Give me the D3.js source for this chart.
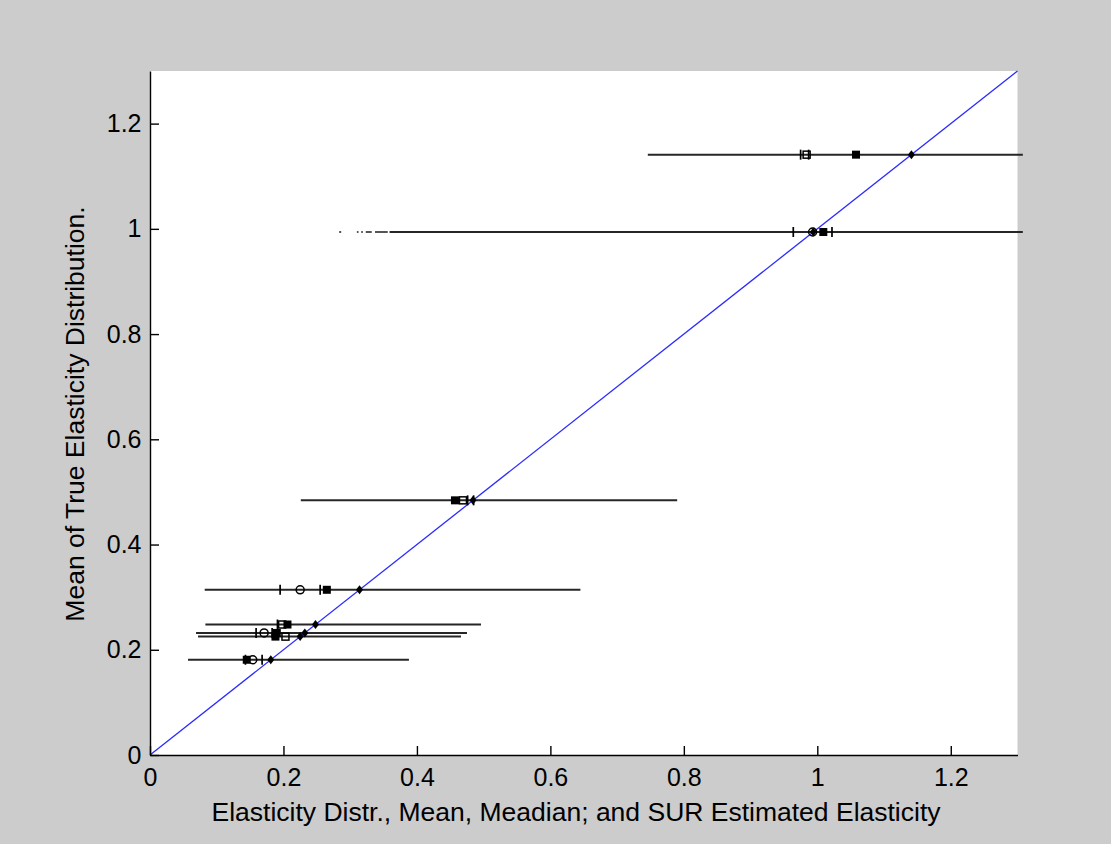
<!DOCTYPE html>
<html>
<head>
<meta charset="utf-8">
<script src="https://cdn.jsdelivr.net/npm/d3@7"></script>
<style>
  html, body { margin: 0; padding: 0; background: #cccccc; }
  svg { display: block; }
  text { font-family: "Liberation Sans", Arial, sans-serif; fill: #000; }
</style>
</head>
<body>
<svg id="chart" width="1111" height="844"></svg>
<script>
// ---- data ----
const trueMean   = [1.141, 0.994, 0.484, 0.314, 0.248, 0.232, 0.225, 0.181];
const rangeLo    = [0.746, 0.359, 0.226, 0.082, 0.083, 0.069, 0.072, 0.057];
const rangeHi    = [1.308, 1.308, 0.790, 0.645, 0.496, 0.475, 0.466, 0.388];
const ciLo       = [0.975, 0.964, 0.476, 0.195, 0.191, 0.159, null,  0.143];
const ciHi       = [0.987, 1.022, 0.485, 0.255, null,  0.183, null,  0.168];
const medianEst  = [null,  0.993, null,  0.225, null,  0.171, null,  0.154];
const meanEst    = [0.984, null,  0.469, null,  0.198, null,  0.203, null ];
const surEst     = [1.058, 1.009, 0.457, 0.265, 0.206, 0.190, 0.188, 0.145];
// faint broken fragments at the left end of the y≈1 row
const fragRow    = 1;
const fragments  = [[0.2835, 0.2865], [0.310, 0.3125], [0.3165, 0.319], [0.3233, 0.3323], [0.3372, 0.3563]];
const xTicks = [0, 0.2, 0.4, 0.6, 0.8, 1, 1.2];
const yTicks = [0, 0.2, 0.4, 0.6, 0.8, 1, 1.2];
const xLabel = "Elasticity Distr., Mean, Meadian; and SUR Estimated Elasticity";
const yLabel = "Mean of True Elasticity Distribution.";

// ---- layout ----
const L = 150, R = 1017.5, T = 71, B = 755;
const svg = d3.select("#chart");
const x = d3.scaleLinear().domain([0, 1.3]).range([L, R]);
const y = d3.scaleLinear().domain([0, 1.3]).range([B, T]);

svg.append("rect").attr("x", 0).attr("y", 0).attr("width", 1111).attr("height", 844).attr("fill", "#cccccc");
svg.append("rect").attr("x", L).attr("y", T).attr("width", R - L).attr("height", B - T).attr("fill", "#ffffff");

const rows = trueMean.map((t, i) => ({
  t, lo: rangeLo[i], hi: rangeHi[i], ciLo: ciLo[i], ciHi: ciHi[i],
  med: medianEst[i], mean: meanEst[i], sur: surEst[i]
}));

// range lines
svg.append("g").selectAll("line").data(rows).join("line")
  .attr("x1", d => x(d.lo)).attr("x2", d => x(d.hi))
  .attr("y1", d => y(d.t)).attr("y2", d => y(d.t))
  .attr("stroke", "#262626").attr("stroke-width", 2);

svg.append("g").selectAll("line").data(fragments).join("line")
  .attr("x1", d => x(d[0])).attr("x2", d => x(d[1]))
  .attr("y1", y(trueMean[fragRow])).attr("y2", y(trueMean[fragRow]))
  .attr("stroke", "#555").attr("stroke-width", 2);

// 45-degree line
svg.append("line")
  .attr("x1", x(0)).attr("y1", y(0)).attr("x2", x(1.3)).attr("y2", y(1.3))
  .attr("stroke", "#2a2aff").attr("stroke-width", 1.3);

const mk = svg.append("g");
// ticks (CI bounds)
const tickPts = [];
rows.forEach(d => { if (d.ciLo != null) tickPts.push({v: d.ciLo, t: d.t}); if (d.ciHi != null) tickPts.push({v: d.ciHi, t: d.t}); });
mk.selectAll("line.ci").data(tickPts).join("line").attr("class", "ci")
  .attr("x1", d => x(d.v)).attr("x2", d => x(d.v))
  .attr("y1", d => y(d.t) - 5).attr("y2", d => y(d.t) + 5)
  .attr("stroke", "#000").attr("stroke-width", 1.7);

// open squares
mk.selectAll("rect.os").data(rows.filter(d => d.mean != null)).join("rect").attr("class", "os")
  .attr("x", d => x(d.mean) - 3.5).attr("y", d => y(d.t) - 3.5)
  .attr("width", 7).attr("height", 7)
  .attr("fill", "none").attr("stroke", "#000").attr("stroke-width", 1.5);

// open circles
mk.selectAll("circle.oc").data(rows.filter(d => d.med != null)).join("circle").attr("class", "oc")
  .attr("cx", d => x(d.med)).attr("cy", d => y(d.t)).attr("r", 4)
  .attr("fill", "none").attr("stroke", "#000").attr("stroke-width", 1.5);

// filled squares
mk.selectAll("rect.fs").data(rows.filter(d => d.sur != null)).join("rect").attr("class", "fs")
  .attr("x", d => x(d.sur) - 4).attr("y", d => y(d.t) - 4)
  .attr("width", 8).attr("height", 8).attr("fill", "#000");

// diamonds (true mean on the diagonal)
mk.selectAll("path.dm").data(rows).join("path").attr("class", "dm")
  .attr("d", d => { const cx = x(d.t), cy = y(d.t); return `M${cx},${cy-4.5}L${cx+3.5},${cy}L${cx},${cy+4.5}L${cx-3.5},${cy}Z`; })
  .attr("fill", "#000");

// axes
const fmt = d => d3.format("~g")(d);
const gx = svg.append("g").attr("transform", `translate(0,${B})`)
  .call(d3.axisBottom(x).tickValues(xTicks).tickFormat(fmt).tickSize(-9).tickSizeOuter(0).tickPadding(13));
const gy = svg.append("g").attr("transform", `translate(${L},0)`)
  .call(d3.axisLeft(y).tickValues(yTicks).tickFormat(fmt).tickSize(-9).tickSizeOuter(0).tickPadding(8.5));
[gx, gy].forEach(g => {
  g.select(".domain").attr("stroke", "#000").attr("stroke-width", 1.4);
  g.selectAll(".tick line").attr("stroke", "#000").attr("stroke-width", 1.4);
  g.selectAll(".tick text").attr("font-family", "'Liberation Sans', Arial, sans-serif")
    .attr("font-size", 25).attr("fill", "#000");
});

// axis titles
svg.append("text").attr("x", 576).attr("y", 821).attr("text-anchor", "middle")
  .attr("font-size", 26.5).text(xLabel);
svg.append("text").attr("transform", "translate(84,414) rotate(-90)").attr("text-anchor", "middle")
  .attr("font-size", 26.5).text(yLabel);
</script>
</body>
</html>
